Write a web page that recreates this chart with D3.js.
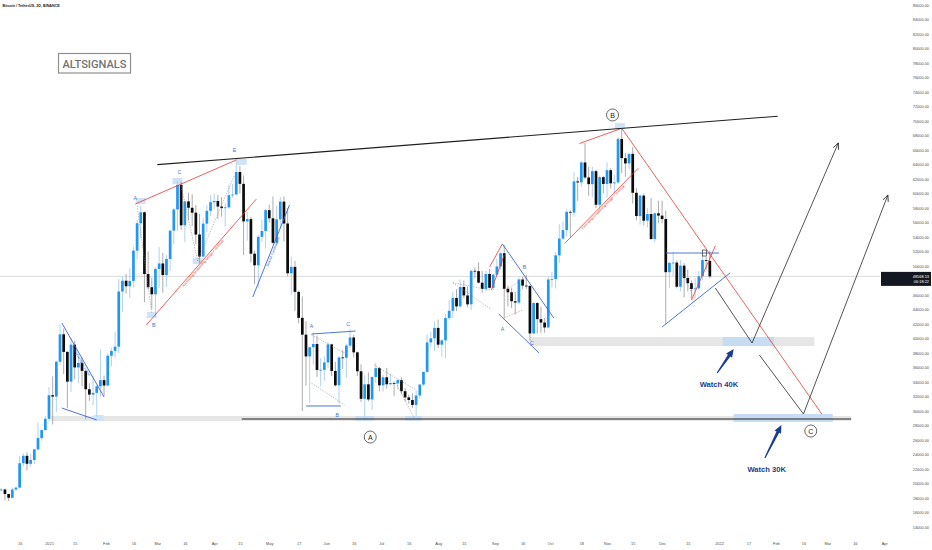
<!DOCTYPE html>
<html><head><meta charset="utf-8">
<script src="https://cdn.jsdelivr.net/npm/d3@7"></script>
<style>html,body{margin:0;padding:0;background:#fff;}svg{display:block;font-family:"Liberation Sans",Arial,sans-serif;}</style>
</head><body><svg id="c" width="932" height="550"></svg>
<script>
// ---------------- DATA ----------------
const candleDates = ["2020-12-06","2020-12-08","2020-12-10","2020-12-12","2020-12-14","2020-12-16","2020-12-18","2020-12-20","2020-12-22","2020-12-24","2020-12-26","2020-12-28","2020-12-30",
"2021-01-01","2021-01-03","2021-01-05","2021-01-07","2021-01-09","2021-01-11","2021-01-13","2021-01-15","2021-01-17","2021-01-19","2021-01-21","2021-01-23","2021-01-25","2021-01-27","2021-01-29","2021-01-31",
"2021-02-02","2021-02-04","2021-02-06","2021-02-08","2021-02-10","2021-02-12","2021-02-14","2021-02-16","2021-02-18","2021-02-20","2021-02-22","2021-02-24","2021-02-26","2021-02-28",
"2021-03-02","2021-03-04","2021-03-06","2021-03-08","2021-03-10","2021-03-12","2021-03-14","2021-03-16","2021-03-18","2021-03-20","2021-03-22","2021-03-24","2021-03-26","2021-03-28","2021-03-30",
"2021-04-01","2021-04-03","2021-04-05","2021-04-07","2021-04-09","2021-04-11","2021-04-13","2021-04-15","2021-04-17","2021-04-19","2021-04-21","2021-04-23","2021-04-25","2021-04-27","2021-04-29",
"2021-05-01","2021-05-03","2021-05-05","2021-05-07","2021-05-09","2021-05-11","2021-05-13","2021-05-15","2021-05-17","2021-05-19","2021-05-21","2021-05-23","2021-05-25","2021-05-27","2021-05-29","2021-05-31",
"2021-06-02","2021-06-04","2021-06-06","2021-06-08","2021-06-10","2021-06-12","2021-06-14","2021-06-16","2021-06-18","2021-06-20","2021-06-22","2021-06-24","2021-06-26","2021-06-28","2021-06-30",
"2021-07-02","2021-07-04","2021-07-06","2021-07-08","2021-07-10","2021-07-12","2021-07-14","2021-07-16","2021-07-18","2021-07-20","2021-07-22","2021-07-24","2021-07-26","2021-07-28","2021-07-30",
"2021-08-01","2021-08-03","2021-08-05","2021-08-07","2021-08-09","2021-08-11","2021-08-13","2021-08-15","2021-08-17","2021-08-19","2021-08-21","2021-08-23","2021-08-25","2021-08-27","2021-08-29","2021-08-31",
"2021-09-02","2021-09-04","2021-09-06","2021-09-08","2021-09-10","2021-09-12","2021-09-14","2021-09-16","2021-09-18","2021-09-20","2021-09-22","2021-09-24","2021-09-26","2021-09-28","2021-09-30",
"2021-10-02","2021-10-04","2021-10-06","2021-10-08","2021-10-10","2021-10-12","2021-10-14","2021-10-16","2021-10-18","2021-10-20","2021-10-22","2021-10-24","2021-10-26","2021-10-28","2021-10-30",
"2021-11-01","2021-11-03","2021-11-05","2021-11-07","2021-11-09","2021-11-11","2021-11-13","2021-11-15","2021-11-17","2021-11-19","2021-11-21","2021-11-23","2021-11-25","2021-11-27","2021-11-29",
"2021-12-01","2021-12-03","2021-12-05","2021-12-07","2021-12-09","2021-12-11","2021-12-13","2021-12-15","2021-12-17","2021-12-19","2021-12-21","2021-12-23","2021-12-25","2021-12-27"];

const opens = [19150,19170,18550,18030,19170,19430,22800,23820,22720,23230,24710,26280,27360,
28920,32180,31990,36800,40580,38150,34050,39150,36010,36630,35530,33000,32260,32500,33400,34260,
33520,37620,38290,38870,46480,47970,47200,47940,52120,55900,57410,48890,47070,46100,
49590,50350,48750,50970,54880,57800,61190,55610,58910,58030,57350,54340,51300,55840,57610,
58800,58970,58200,57990,58090,59770,59860,62960,61330,56150,56470,51700,50100,54020,54830,
57700,56580,53200,56430,58880,55860,49000,49880,46430,42850,40530,37530,38800,39240,35660,35680,
36690,39190,35520,33550,37390,37340,39020,40140,38090,35480,31680,33680,31590,34700,35910,
33540,34650,33690,33860,33810,34260,32730,31880,31520,30840,32140,33650,35400,39460,40020,
41460,39150,39740,42820,43820,45600,44430,47100,45940,44710,49340,49290,47700,46840,48900,46990,
48810,49940,51760,46860,46370,45140,44960,48140,47300,47250,40700,44890,42670,42200,41520,
48140,48200,51470,53790,54950,57470,57370,61670,61530,64280,62210,61290,63080,58450,62250,
61320,63220,61400,61530,67530,64880,64150,65470,60100,56890,59710,56250,57170,53720,57270,
56950,56480,49150,50440,50470,47140,50050,48340,47630,46830,46910,48590,50820,50700];

const highs = [19420,19290,18560,19410,19570,23800,24170,24300,24100,24790,28420,27500,29300,
33300,34780,36940,41950,41380,38260,40100,39700,37850,37450,35600,33800,34880,33550,38500,34880,
37950,38700,40950,48200,48630,48900,49700,52620,56350,58350,57530,52000,48400,49800,
52600,51800,51500,54900,58000,61780,61680,58970,60100,59900,58400,57200,56600,58400,59800,
60000,59800,59500,58650,61200,61300,64850,63800,62500,57500,56800,52100,54300,56400,57900,
58450,59600,58300,59500,59600,58000,51300,50700,46600,45800,42400,38900,40850,40400,37300,37500,
39480,39290,36800,37530,38400,39300,41300,40500,38200,36450,34900,35300,34750,36650,36100,
35000,35950,35100,34100,34400,34650,33200,32250,32450,32850,33700,35400,40550,40900,42300,
42600,39970,43400,45300,46450,46800,48150,48000,47200,49400,49800,50500,49300,49300,49600,48900,
51000,51900,52900,47300,47000,46400,48450,48500,48800,47350,45000,45000,44350,42800,48500,
49200,51900,55750,56100,57800,57680,62900,62300,64500,67000,63700,63700,63300,62500,62400,
64300,63500,62600,67800,69000,65600,65500,66400,60800,59900,60000,58000,59400,57400,59000,
59000,57600,50500,51900,50800,50800,50400,49500,48000,48300,49300,51400,51300,52100];

const lows = [18900,17650,17570,18020,19050,19280,22350,21800,22350,22700,24500,25900,27320,
28620,28130,29900,36300,35100,30400,32600,34400,33850,33400,28850,31400,30800,29240,31950,32100,
33400,36160,37350,37990,43700,46200,45570,47050,50900,53800,45000,46800,44100,43000,
47000,46300,47100,49300,53000,54900,55000,53300,56300,55500,53000,50400,51200,54700,56900,
57900,56500,56800,55470,57900,59400,59850,60000,51500,53500,50500,47500,47000,53300,52400,
56000,53000,52900,55200,53400,48600,46000,43800,42100,30000,33500,31100,36400,34700,33400,34150,
35900,34800,33350,31000,35800,34600,38700,37400,34800,31250,28800,31300,30150,33900,32700,
32700,33100,33600,32100,33000,32300,31300,31000,30400,29300,31700,33400,35200,38800,38300,
38700,37500,37300,42500,42800,43800,44250,45500,44300,43900,48300,47600,46300,46500,46900,46700,
48600,49500,42800,44400,44200,43300,44700,46800,46850,39600,40550,40700,40800,40800,41400,
47050,46900,50400,53600,54100,53900,56800,58950,60900,62000,59700,59500,58000,57800,60000,
59400,60700,60100,61350,62800,62300,63400,58600,56300,55700,55600,55300,53600,53300,55900,
55900,42000,47000,48600,46900,46500,45700,46500,45500,45600,46650,48000,49500,48300];

const closes = [19170,18550,18030,19170,19430,22800,23820,22720,23230,24710,26280,27360,28920,
32180,31990,36800,40580,38150,34050,39150,36010,36630,35530,33000,32260,32500,33400,34260,33520,
37620,38290,38870,46480,47970,47200,47940,52120,55900,57410,48890,47070,46100,49590,
50350,48750,50970,54880,57800,61190,55610,58910,58030,57350,54340,51300,55840,57610,58800,
58970,58200,57990,58090,59770,59860,62960,61330,56150,56470,51700,50100,54020,54830,57700,
56580,53200,56430,58880,55860,49000,49880,46430,42850,40530,37530,38800,39240,35660,35680,36690,
39190,35520,33550,37390,37340,39020,40140,38090,35480,31680,33680,31590,34700,35910,33540,
34650,33690,33860,33810,34260,32730,31880,31520,30840,32140,33650,35400,39460,40020,41460,
39150,39740,42820,43820,45600,44430,47100,45940,44710,49340,49290,47700,46840,48900,46990,48810,
49940,51760,46860,46370,45140,44960,48140,47300,47250,40700,44890,42670,42200,41520,48140,
48200,51470,53790,54950,57470,57370,61670,61530,64280,62210,61290,63080,58450,62250,61320,
63220,61400,61530,67530,64880,64150,65470,60100,56890,59710,56250,57170,53720,57270,56950,
56480,49150,50440,50470,47140,50050,48340,47630,46830,46910,48590,50820,50700,48568.13];

const lastPrice = 48568.13;
const countdown = "06:18:22";

const priceTicks = [14000,16000,18000,20000,22000,24000,26000,28000,30000,32000,34000,36000,38000,40000,
42000,44000,46000,48000,50000,52000,54000,56000,58000,60000,62000,64000,66000,68000,70000,72000,74000,
76000,78000,80000,82000,84000,86000];

const dateTicks = ["2020-12-16","2021-01-01","2021-01-15","2021-02-01","2021-02-16","2021-03-01","2021-03-16","2021-04-01",
"2021-04-15","2021-05-01","2021-05-17","2021-06-01","2021-06-16","2021-07-01","2021-07-16","2021-08-01","2021-08-15",
"2021-09-01","2021-09-16","2021-10-01","2021-10-18","2021-11-01","2021-11-15","2021-12-01","2021-12-15","2022-01-01",
"2022-01-17","2022-02-01","2022-02-16","2022-03-01","2022-03-16","2022-04-01"];
const dateTickLabels = ["16","2021","15","Feb","16","Mar","16","Apr","15","May","17","Jun","16","Jul","16","Aug","15",
"Sep","16","Oct","18","Nov","15","Dec","15","2022","17","Feb","16","Mar","16","Apr"];

// drawings, in [date, price]
const blackLines = [
  [["2021-03-01",63980],["2022-02-02",70660]],
  [["2021-04-16",28900],["2022-03-14",28900]]
];
const zigzags = [
  [["2021-12-30",46970],["2022-01-19",39380],["2022-03-07",66970]],
  [["2022-01-23",37720],["2022-02-16",29590],["2022-04-03",59790]]
];
const redLines = [
  [["2021-11-09",69000],["2022-02-26",29590]],
  [["2021-02-17",58550],["2021-04-13",64620]],
  [["2021-02-23",41860],["2021-04-24",59240]],
  [["2021-10-17",66900],["2021-11-08",68900]],
  [["2021-10-09",53130],["2021-11-18",63480]],
  [["2021-08-29",49860],["2021-09-05",53040]],
  [["2021-08-30",46690],["2021-09-06",51520]],
  [["2021-12-17",45310],["2021-12-30",52760]]
];
const blueLines = [
  [["2021-01-08",42140],["2021-01-31",31930]],
  [["2021-01-08",30410],["2021-01-27",28760]],
  [["2021-04-22",45720],["2021-05-12",58410]],
  [["2021-05-24",40620],["2021-06-17",41030]],
  [["2021-05-21",30690],["2021-06-09",30690]],
  [["2021-09-05",53040],["2021-10-03",42830]],
  [["2021-09-03",43380],["2021-09-25",38000]],
  [["2021-12-01",41590],["2022-01-07",49040]],
  [["2021-12-03",51790],["2022-01-01",51790]]
];
const dottedGray = [
  [["2021-02-18",58300],["2021-02-26",43500]],
  [["2021-03-14",61000],["2021-03-23",50700]],
  [["2021-03-23",50700],["2021-04-12",62500]],
  [["2021-05-24",40480],["2021-06-11",38000]],
  [["2021-05-24",33860],["2021-06-11",30830]],
  [["2021-06-27",36350],["2021-07-20",32900]],
  [["2021-07-09",33860],["2021-07-19",29030]],
  [["2021-08-09",47700],["2021-08-29",46700]],
  [["2021-08-09",47700],["2021-08-30",44000]],
  [["2021-12-09",50550],["2021-12-19",45300]]
];
const dottedRed = [
  [["2021-09-06",42830],["2021-09-16",43930]],
  [["2021-09-07",46690],["2021-09-17",48340]]
];
const blueLetters = [
  ["A","2021-02-17",59380],["B","2021-02-27",41860],["C","2021-03-13",62970],["E","2021-04-12",66000],
  ["A","2021-05-24",41720],["C","2021-06-13",42000],["B","2021-06-07",29450],
  ["B","2021-09-17",49860],["A","2021-09-05",41310],["C","2021-09-21",39380]
];
const pivotMarks = [
  ["2021-02-20",58970],["2021-02-26",43240],["2021-03-12",61720],["2021-04-16",64340],
  ["2021-03-23",50690],["2021-01-28",29030],["2021-11-08",69300]
];
const grayBands = [
  [["2021-01-02",29310],["2022-03-14",28620]],
  [["2021-09-20",40200],["2022-02-22",38960]]
];
const blueBands = [
  [["2022-01-09",29590],["2022-03-04",28480]],
  [["2022-01-03",40200],["2022-01-31",38960]],
  [["2021-06-17",29310],["2021-06-27",28620]],
  [["2021-07-14",29310],["2021-07-23",28620]]
];
const circleLabels = [["A","2021-06-25",26410],["B","2021-11-04",70830],["C","2022-02-20",27240]];
const watchNotes = [
  {text:"Watch 40K", at:["2022-01-01",33700], tail:["2021-12-31",35240], head:["2022-01-09",38550]},
  {text:"Watch 30K", at:["2022-01-27",21900], tail:["2022-01-26",23520], head:["2022-02-04",28070]}
];
const lineTexts = [
  {text:"Falling wedge = bullish", line:[["2021-01-08",42140],["2021-01-31",31930]], side:1, color:"#3c67c9"},
  {text:"Ascending broadening wedge = reversal", line:[["2021-02-23",41860],["2021-04-24",59240]], side:1, color:"#e53935"},
  {text:"Bearish Continuation", line:[["2021-04-22",45720],["2021-05-12",58410]], side:1, color:"#3c67c9"},
  {text:"Ascending broadening wedge = reversal", line:[["2021-10-09",53130],["2021-11-18",63480]], side:1, color:"#e53935"}
];

// ---------------- DRAW ----------------
const P = d3.utcParse("%Y-%m-%d");
const svg = d3.select("#c");
svg.append("rect").attr("width",932).attr("height",550).attr("fill","#fff");
const x = d3.scaleUtc().domain([P("2021-01-01"), P("2022-01-01")]).range([49, 719]);
const y = d3.scaleLinear().domain([14000, 86000]).range([527, 5]);
const pt = d => [x(P(d[0])), y(d[1])];
const lineGen = d3.line().x(d => pt(d)[0]).y(d => pt(d)[1]);

const defs = svg.append("defs");
defs.append("marker").attr("id","openArrow").attr("viewBox","0 0 10 10").attr("refX",9).attr("refY",5)
  .attr("markerWidth",7).attr("markerHeight",7).attr("markerUnits","userSpaceOnUse").attr("orient","auto")
  .append("path").attr("d","M0,1 L9,5 L0,9").attr("fill","none").attr("stroke","#222").attr("stroke-width",1.1);

// bands
const bandRect = (sel, data, fill) => sel.selectAll(null).data(data).join("rect")
  .attr("x", d => pt(d[0])[0]).attr("y", d => pt(d[0])[1])
  .attr("width", d => pt(d[1])[0] - pt(d[0])[0]).attr("height", d => pt(d[1])[1] - pt(d[0])[1])
  .attr("fill", fill);
const gb = svg.append("g");
bandRect(gb, grayBands, "#e6e6e6");
bandRect(gb, blueBands, "#c7dcf1");

// last price line
svg.append("line").attr("x1",0).attr("x2",880).attr("y1",y(lastPrice)).attr("y2",y(lastPrice))
  .attr("stroke","#d2d2d2").attr("stroke-width",0.8);

// pivot marks
svg.append("g").selectAll("rect").data(pivotMarks).join("rect")
  .attr("x", d => pt(d)[0]-5).attr("y", d => pt(d)[1]-3).attr("width",10).attr("height",6)
  .attr("fill","#cfe3f7");

// candles
const candles = candleDates.map((d,i) => ({t:P(d), o:opens[i], h:highs[i], l:lows[i], c:closes[i]}));
const cg = svg.append("g");
cg.selectAll("line").data(candles).join("line")
  .attr("x1", d => x(d.t)).attr("x2", d => x(d.t)).attr("y1", d => y(d.h)).attr("y2", d => y(d.l))
  .attr("stroke", d => d.c >= d.o ? "#a6cdf3" : "#a3a3a3").attr("stroke-width", 0.9);
const cw = 2.7;
cg.selectAll("rect").data(candles).join("rect")
  .attr("x", d => x(d.t) - cw/2).attr("width", cw)
  .attr("y", d => y(Math.max(d.o, d.c)))
  .attr("height", d => Math.max(0.8, Math.abs(y(d.o) - y(d.c))))
  .attr("fill", d => d.c >= d.o ? "#2196f3" : "#0b0b0b");

// drawings
const drawLines = (data, stroke, w, dash) => svg.append("g").selectAll("path").data(data).join("path")
  .attr("d", lineGen).attr("fill","none").attr("stroke",stroke).attr("stroke-width",w)
  .attr("stroke-dasharray", dash || null);
drawLines(dottedGray, "#8c8c8c", 0.6, "1.3,1.3");
drawLines(dottedRed, "#e57373", 0.6, "1.3,1.3");
drawLines(redLines, "#e53935", 0.8);
drawLines(blueLines, "#3c67c9", 0.9);
drawLines(blackLines, "#1f1f1f", 1.1);
drawLines(zigzags, "#2a2a2a", 0.8).attr("marker-end","url(#openArrow)");

// small square marker near end
svg.append("rect").attr("x", x(P("2021-12-24"))-2).attr("y", y(51790)-3).attr("width",4).attr("height",6)
  .attr("fill","none").attr("stroke","#333").attr("stroke-width",0.7);

// text along lines
lineTexts.forEach(t => {
  const a = pt(t.line[0]), b = pt(t.line[1]);
  const ang = Math.atan2(b[1]-a[1], b[0]-a[0]) * 180 / Math.PI;
  const m = [(a[0]+b[0])/2, (a[1]+b[1])/2];
  svg.append("text").attr("transform", `translate(${m[0]},${m[1]}) rotate(${ang})`)
    .attr("text-anchor","middle").attr("dy", 3.2*t.side).attr("font-size",3.4).attr("fill",t.color)
    .text(t.text);
});

// blue letters
svg.append("g").selectAll("text").data(blueLetters).join("text")
  .attr("x", d => pt([d[1],d[2]])[0]).attr("y", d => pt([d[1],d[2]])[1]).attr("dy","0.35em")
  .attr("text-anchor","middle").attr("font-size",5.2).attr("fill","#4471c9").text(d => d[0]);

// circle labels
const cl = svg.append("g").selectAll("g").data(circleLabels).join("g")
  .attr("transform", d => { const p = pt([d[1],d[2]]); return `translate(${p[0]},${p[1]})`; });
cl.append("circle").attr("r",6).attr("fill","#fff").attr("stroke","#444").attr("stroke-width",0.8);
cl.append("text").attr("text-anchor","middle").attr("dy","0.36em").attr("font-size",7).attr("fill","#222").text(d => d[0]);

// watch notes
watchNotes.forEach(w => {
  const p = pt(w.at), a = pt(w.tail), b = pt(w.head);
  svg.append("text").attr("x",p[0]).attr("y",p[1]).attr("dy","0.35em").attr("text-anchor","middle")
    .attr("font-size",7.6).attr("font-weight","bold").attr("fill","#1c3d8f").text(w.text);
  const dx = b[0]-a[0], dy = b[1]-a[1], L = Math.hypot(dx,dy), ux = dx/L, uy = dy/L, nx = -uy, ny = ux;
  const hl = 8, hw = 3.6, bx = b[0]-ux*hl, by = b[1]-uy*hl;
  svg.append("path").attr("d",
    `M${a[0]+nx*0.6},${a[1]+ny*0.6} L${bx+nx*1.5},${by+ny*1.5} L${bx+nx*hw},${by+ny*hw} L${b[0]},${b[1]} L${bx-nx*hw},${by-ny*hw} L${bx-nx*1.5},${by-ny*1.5} L${a[0]-nx*0.6},${a[1]-ny*0.6} Z`)
    .attr("fill","#1c3d8f");
});

// ALTSIGNALS box
svg.append("rect").attr("x",58.5).attr("y",53.5).attr("width",72).attr("height",19.5)
  .attr("fill","#fff").attr("stroke","#8f8f8f").attr("stroke-width",1.2);
svg.append("text").attr("x",94.5).attr("y",67.5).attr("text-anchor","middle").attr("font-family","Roboto, sans-serif")
  .attr("font-size",11.5).attr("font-weight",500).attr("fill","#737373")
  .attr("textLength",64).attr("lengthAdjust","spacingAndGlyphs").text("ALTSIGNALS");

// title
svg.append("text").attr("x",2.5).attr("y",7).attr("font-size",3.7).attr("font-weight","bold").attr("fill","#222")
  .text("Bitcoin / TetherUS, 2D, BINANCE");

// right price axis
svg.append("g").attr("transform","translate(929,0)")
  .call(d3.axisLeft(y).tickValues(priceTicks).tickFormat(d3.format(".2f")).tickSize(0).tickPadding(0))
  .call(g => g.select(".domain").remove())
  .attr("font-size",3.9).attr("font-family","Liberation Sans, Arial, sans-serif")
  .selectAll("text").attr("fill","#4d4d4d");

// bottom date axis
svg.append("g").attr("transform","translate(0,542)")
  .call(d3.axisBottom(x).tickValues(dateTicks.map(P)).tickFormat((d,i) => dateTickLabels[i]).tickSize(0).tickPadding(0))
  .call(g => g.select(".domain").remove())
  .attr("font-size",3.9).attr("font-family","Liberation Sans, Arial, sans-serif")
  .selectAll("text").attr("fill","#4d4d4d");

// last price label
const ly = y(lastPrice);
svg.append("rect").attr("x",881).attr("y",ly-4.5).attr("width",50).attr("height",14).attr("fill","#131722");
svg.append("text").attr("x",929).attr("y",ly).attr("dy","0.35em").attr("text-anchor","end").attr("font-size",3.9)
  .attr("fill","#fff").text(d3.format(".2f")(lastPrice));
svg.append("text").attr("x",929).attr("y",ly+5.5).attr("dy","0.35em").attr("text-anchor","end").attr("font-size",3.9)
  .attr("fill","#fff").text(countdown);
</script></body></html>
